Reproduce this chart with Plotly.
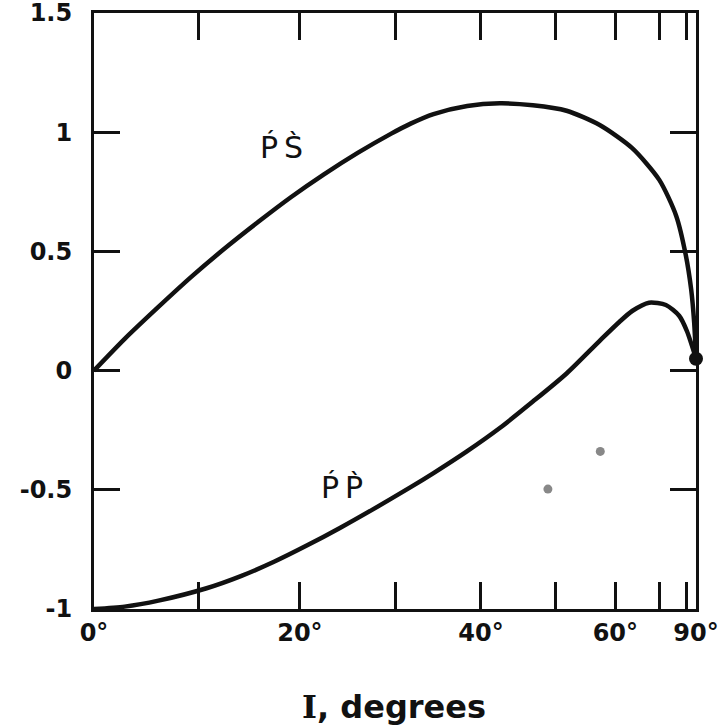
import plotly.graph_objects as go

# x axis is sin(I); tick labels in degrees of incidence
tick_angles = ["0°", "", "20°", "", "40°", "", "60°", "", "", "90°"]
tick_sin = [0.0, 0.1736, 0.3420, 0.5, 0.6428, 0.7660, 0.8660, 0.9397, 0.9848, 1.0]

y_ticks = [-1, -0.5, 0, 0.5, 1, 1.5]
y_tick_text = ["-1", "-0.5", "0", "0.5", "1", "1.5"]

# P'S' curve (x = sin I)
ps_x = [0, 0.051, 0.107, 0.162, 0.217, 0.273, 0.327, 0.382, 0.438, 0.493, 0.526, 0.564,
        0.620, 0.674, 0.729, 0.785, 0.840, 0.894, 0.939, 0.967, 0.983, 0.992, 0.997, 1.0]
ps_y = [0, 0.133, 0.267, 0.394, 0.512, 0.624, 0.727, 0.823, 0.913, 0.993, 1.036, 1.076,
        1.110, 1.121, 1.113, 1.090, 1.030, 0.933, 0.800, 0.650, 0.485, 0.340, 0.200, 0.05]

# P'P' curve
pp_x = [0, 0.051, 0.107, 0.187, 0.245, 0.299, 0.355, 0.410, 0.464, 0.526, 0.564, 0.620,
        0.674, 0.729, 0.785, 0.840, 0.873, 0.894, 0.922, 0.950, 0.972, 0.985, 1.0]
pp_y = [-1, -0.990, -0.965, -0.913, -0.861, -0.802, -0.732, -0.658, -0.581, -0.489, -0.430, -0.338,
        -0.241, -0.130, -0.012, 0.125, 0.205, 0.250, 0.285, 0.275, 0.230, 0.165, 0.05]

end_x = [1.0]
end_y = [0.05]

spot_x = [0.754, 0.841]
spot_y = [-0.497, -0.339]

fig = go.Figure()
fig.add_trace(go.Scatter(x=ps_x, y=ps_y, mode="lines",
                         line=dict(color="#111111", width=4.5, shape="spline", smoothing=0.7),
                         cliponaxis=False, showlegend=False))
fig.add_trace(go.Scatter(x=pp_x, y=pp_y, mode="lines",
                         line=dict(color="#111111", width=4.5, shape="spline", smoothing=0.7),
                         cliponaxis=False, showlegend=False))
fig.add_trace(go.Scatter(x=end_x, y=end_y, mode="markers",
                         marker=dict(color="#111111", size=14),
                         cliponaxis=False, showlegend=False))
fig.add_trace(go.Scatter(x=spot_x, y=spot_y, mode="markers",
                         marker=dict(color="#888888", size=9),
                         cliponaxis=False, showlegend=False))

label_font = dict(family="Liberation Sans Narrow, DejaVu Sans, Arial", size=30, color="#111111")
fig.add_annotation(x=(281 - 94) / 602, y=(370.6 - 147) / 238.4, xref="x", yref="y",
                   text="P\u0301\u2009S\u0300", showarrow=False, font=label_font)
fig.add_annotation(x=(342 - 94) / 602, y=(370.6 - 487) / 238.4, xref="x", yref="y",
                   text="P\u0301\u2009P\u0300", showarrow=False, font=label_font)

fig.add_annotation(x=0.498, y=-0.164, xref="paper", yref="paper",
                   text="<span style=\"font-family:DejaVu Serif\">I</span>, degrees",
                   showarrow=False, yanchor="middle",
                   font=dict(family="DejaVu Sans", size=32, color="#111111", weight="bold"))

tick_font = dict(family="DejaVu Sans", size=24, color="#111111", weight="bold")

fig.update_xaxes(range=[0, 1], tickvals=tick_sin, ticktext=tick_angles,
                 ticks="inside", ticklen=27, tickwidth=3, tickcolor="#111111",
                 showline=True, linewidth=3, linecolor="#111111", mirror="ticks",
                 showgrid=False, zeroline=False, tickfont=tick_font, automargin=False,
                 ticklabeloverflow="allow")
fig.update_yaxes(range=[-1, 1.5], tickvals=y_ticks, ticktext=y_tick_text,
                 ticks="inside", ticklen=26, tickwidth=3, tickcolor="#111111",
                 showline=True, linewidth=3, linecolor="#111111", mirror="ticks",
                 showgrid=False, zeroline=False, tickfont=tick_font, ticklabelstandoff=14,
                 automargin=False, ticklabeloverflow="allow")

fig.update_layout(width=726, height=728,
                  margin=dict(l=94, r=30, t=13, b=119),
                  plot_bgcolor="white", paper_bgcolor="white")

fig.write_html("out.html", config={"displayModeBar": False},
               post_script="document.body.style.margin='0';document.body.style.overflow='hidden';")
